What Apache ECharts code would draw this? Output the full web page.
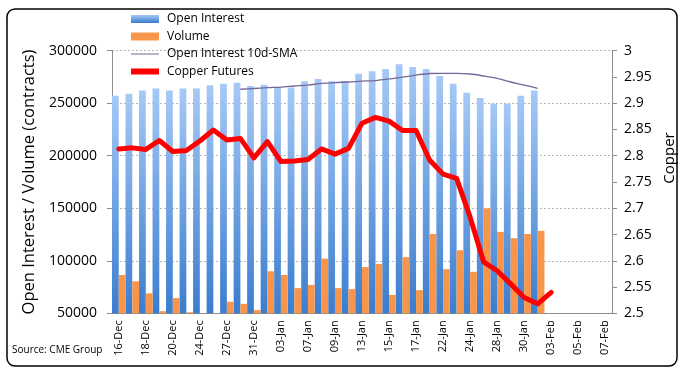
<!DOCTYPE html>
<html>
<head>
<meta charset="utf-8">
<script src="https://cdn.jsdelivr.net/npm/echarts@6/dist/echarts.min.js"></script>
<style>
  html, body { margin: 0; padding: 0; background: #fff; }
  #chart { width: 687px; height: 375px; }
</style>
</head>
<body>
<div id="chart"></div>
<script>
// trading days on the category axis
var dates = ['16-Dec', '17-Dec', '18-Dec', '19-Dec', '20-Dec', '23-Dec', '24-Dec', '26-Dec', '27-Dec', '30-Dec',
    '31-Dec', '02-Jan', '03-Jan', '06-Jan', '07-Jan', '08-Jan', '09-Jan', '10-Jan', '13-Jan', '14-Jan',
    '15-Jan', '16-Jan', '17-Jan', '21-Jan', '22-Jan', '23-Jan', '24-Jan', '27-Jan', '28-Jan', '29-Jan',
    '30-Jan', '31-Jan', '03-Feb', '04-Feb', '05-Feb', '06-Feb', '07-Feb'];

var openInterest = [257000, 259000, 262000, 264000, 262000, 264000, 264000, 267000, 268500, 269500,
    266500, 267500, 265000, 265000, 271000, 273000, 271000, 271000, 278000, 280500,
    282500, 287000, 284500, 282500, 276000, 268500, 260000, 255000, 249500, 249500,
    257000, 262000, null, null, null, null, null];

var volume = [86500, 80500, 69000, 52000, 64500, 51000, 40000, 40000, 61000, 59000,
    53000, 90000, 86500, 74000, 77000, 102000, 74000, 73000, 94000, 97000,
    67500, 103500, 72000, 125500, 92000, 110000, 89500, 150000, 127500, 121500,
    125500, 128500, null, null, null, null, null];

var oiSma10 = [null, null, null, null, null, null, null, null, null, 263300,
    264000, 264800, 265400, 266400, 267300, 268800, 269700, 270200, 271100, 271600,
    273100, 274900, 276800, 278300, 278500, 278500, 277800, 275900, 273600, 270200,
    267300, 264200, null, null, null, null, null];

var copper = [2.813, 2.815, 2.812, 2.829, 2.808, 2.810, 2.828, 2.849, 2.830, 2.833,
    2.796, 2.827, 2.789, 2.790, 2.793, 2.813, 2.803, 2.814, 2.862, 2.873,
    2.866, 2.848, 2.848, 2.792, 2.765, 2.757, 2.683, 2.598, 2.581, 2.556,
    2.530, 2.518, 2.540, null, null, null, null];

var font = '"Open Sans", "Noto Sans", sans-serif';
var chart = echarts.init(document.getElementById('chart'));

var option = {
    backgroundColor: '#fff',
    animation: false,
    textStyle: { fontFamily: font, color: '#000' },
    grid: { left: 112, right: 75, top: 50.7, bottom: 61.7, outerBoundsMode: 'none' },
    legend: {
        orient: 'vertical',
        left: 126,
        top: 7,
        itemWidth: 28,
        itemHeight: 8,
        itemGap: 3.5,
        textStyle: { fontFamily: font, fontSize: 12, color: '#000', lineHeight: 14, padding: [0, 0, 0, 3] },
        data: [
            { name: 'Open Interest', icon: 'rect' },
            { name: 'Volume', icon: 'rect' },
            // plain line icons, no symbol in the middle
            { name: 'Open Interest 10d-SMA', icon: 'path://M0,0H28V1H0Z' },
            { name: 'Copper Futures', icon: 'path://M0,0H28V6H0Z' }
        ]
    },
    xAxis: {
        type: 'category',
        data: dates,
        axisLine: { lineStyle: { color: '#8c8c8c' } },
        axisTick: { interval: 0, length: 4, lineStyle: { color: '#8c8c8c' } },
        axisLabel: { interval: 1, rotate: 90, fontSize: 11, color: '#000', margin: 7, fontFamily: font }
    },
    yAxis: [
        {
            type: 'value',
            min: 50000,
            max: 300000,
            interval: 50000,
            name: 'Open Interest / Volume (contracts)',
            nameLocation: 'middle',
            nameRotate: 90,
            nameGap: 72,
            nameTextStyle: { fontSize: 16.5, color: '#000', fontFamily: font },
            axisLine: { show: true, lineStyle: { color: '#8c8c8c' } },
            axisTick: { show: true, length: 5, lineStyle: { color: '#8c8c8c' } },
            axisLabel: {
                fontSize: 14, color: '#000', margin: 15, fontFamily: font,
                formatter: function (v) { return String(v); }
            },
            splitLine: { lineStyle: { color: '#b5b5b5', type: [2, 2] } }
        },
        {
            type: 'value',
            position: 'right',
            min: 2.5,
            max: 3,
            interval: 0.05,
            name: 'Copper',
            nameLocation: 'middle',
            nameRotate: 90,
            nameGap: 45,
            nameTextStyle: { fontSize: 15, color: '#000', fontFamily: font, padding: [0, 0, 0, 48] },
            axisLine: { show: true, lineStyle: { color: '#8c8c8c' } },
            axisTick: { show: true, length: 5, lineStyle: { color: '#8c8c8c' } },
            axisLabel: { fontSize: 14, color: '#000', margin: 12, fontFamily: font },
            splitLine: { show: false }
        }
    ],
    series: [
        {
            name: 'Open Interest',
            type: 'bar',
            data: openInterest,
            barGap: '0%',
            barCategoryGap: '0%',
            itemStyle: {
                color: new echarts.graphic.LinearGradient(0, 0, 0, 1, [
                    { offset: 0, color: '#a6c9f6' },
                    { offset: 1, color: '#3a7dcf' }
                ])
            }
        },
        {
            name: 'Volume',
            type: 'bar',
            data: volume,
            itemStyle: { color: '#f7964a' }
        },
        {
            name: 'Open Interest 10d-SMA',
            type: 'line',
            data: oiSma10,
            symbol: 'none',
            smooth: 0.3,
            lineStyle: { color: '#74689a', width: 1.3 },
            itemStyle: { color: '#74689a' }
        },
        {
            name: 'Copper Futures',
            type: 'line',
            yAxisIndex: 1,
            data: copper,
            symbol: 'none',
            lineStyle: { color: '#ff0000', width: 5, join: 'round', cap: 'round' },
            itemStyle: { color: '#ff0000' }
        }
    ],
    graphic: [
        {
            type: 'rect',
            shape: { x: 7, y: 9, width: 670, height: 357, r: 8 },
            style: { fill: 'none', stroke: '#000', lineWidth: 1.5 },
            silent: true
        },
        {
            type: 'text',
            left: 12,
            top: 345,
            style: { text: 'Source: CME Group', font: '10px ' + font, fill: '#000' }
        }
    ]
};

chart.setOption(option);
</script>
</body>
</html>
